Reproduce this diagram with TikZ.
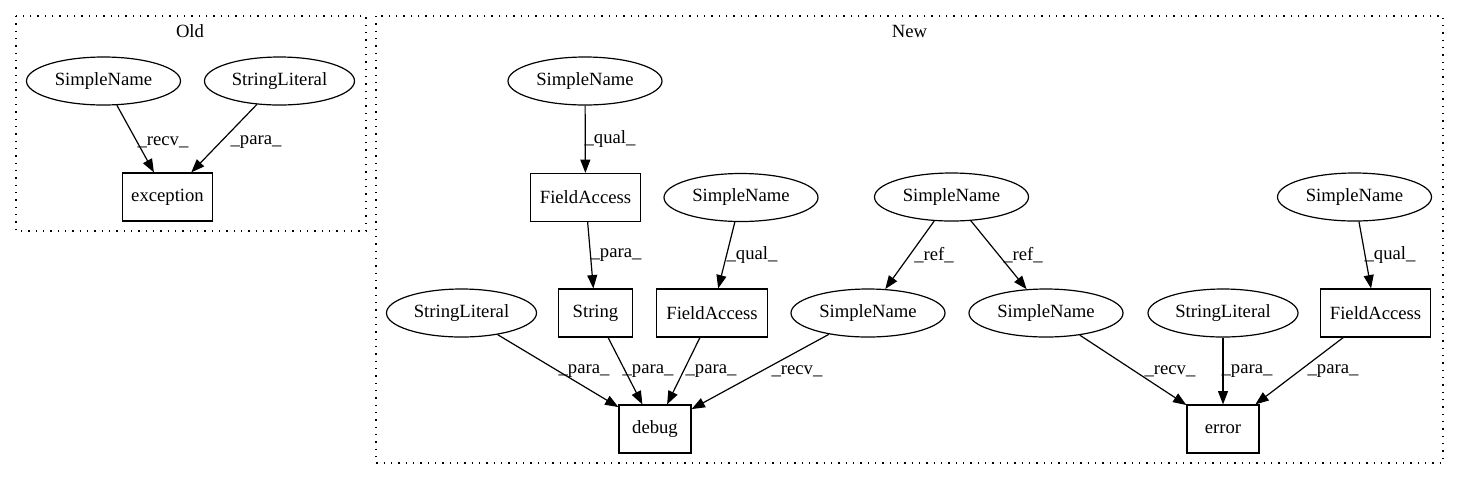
\documentclass[tikz,border=0pt]{standalone}
\usepackage{fontspec}
\setmainfont{Liberation Serif}
\usetikzlibrary{shapes.geometric,arrows.meta}
\begin{document}
\begin{tikzpicture}[x=0.75pt,y=-0.75pt,
  font=\fontsize{14}{16}\selectfont,
  ell/.style={draw,ellipse,line width=0.9pt,inner sep=0pt,minimum height=36pt,minimum width=115.5pt},
  sl/.style={ell,minimum width=112.5pt},
  box/.style={draw,rectangle,line width=0.9pt,inner sep=0pt,minimum height=36pt},
  lbl/.style={inner sep=0pt},
  edge/.style={line width=0.9pt,-{Triangle[length=10pt,width=7.5pt]}},
  cluster/.style={draw,line width=0.9pt,dash pattern=on 1pt off 4.5pt}]
\useasboundingbox (0,0) rectangle (1459,480);
\draw[cluster] (16,16) rectangle (366,231);
\draw[cluster] (376,16) rectangle (1443,463);
\node[lbl] (toldtitle) at (190,31) {Old};
\node[lbl] (tnewtitle) at (909.5,31) {New};
% Old
\node[ell] (osn) at (103.5,81) {SimpleName};
\node[sl] (osl) at (279.5,81) {StringLiteral};
\node[box,minimum width=68pt] (oexc) at (167.5,197) {exception};
\draw[edge] (osn) -- (oexc);
\draw[edge] (osl) -- (oexc);
\node[lbl] (lo1) at (163,142) {\_recv\_};
\node[lbl] (lo2) at (256,142) {\_para\_};
% New
\node[ell] (sn1) at (585,81) {SimpleName};
\node[box,minimum width=83pt] (fa1) at (585.5,197.5) {FieldAccess};
\node[ell] (sn2) at (741,197.5) {SimpleName};
\node[ell] (sn3) at (951.5,197) {SimpleName};
\node[ell] (sn6) at (1354.5,197) {SimpleName};
\node[sl] (sl1) at (461.5,313) {StringLiteral};
\node[box,minimum width=55pt] (str) at (595.5,313) {String};
\node[box,minimum width=83pt] (fa2) at (712,313) {FieldAccess};
\node[ell] (sn4) at (868,313) {SimpleName};
\node[ell] (sn5) at (1046,313) {SimpleName};
\node[sl] (sl2) at (1223,313) {StringLiteral};
\node[box,minimum width=83pt] (fa3) at (1375.5,313) {FieldAccess};
\node[box,minimum width=54pt] (debug) at (655,429) {debug};
\node[box,minimum width=54pt] (err) at (1223,429) {error};
\draw[edge] (sn1) -- (fa1);
\draw[edge] (fa1) -- (str);
\draw[edge] (sn2) -- (fa2);
\draw[edge] (sn3) -- (sn4);
\draw[edge] (sn3) -- (sn5);
\draw[edge] (sn6) -- (fa3);
\draw[edge] (sl1) -- (debug);
\draw[edge] (str) -- (debug);
\draw[edge] (fa2) -- (debug);
\draw[edge] (sn4) -- (debug);
\draw[edge] (sn5) -- (err);
\draw[edge] (sl2) -- (err);
\draw[edge] (fa3) -- (err);
\node[lbl] (l1) at (610,139) {\_qual\_};
\node[lbl] (l2) at (616,255) {\_para\_};
\node[lbl] (l3) at (752,255) {\_qual\_};
\node[lbl] (l4) at (934,255) {\_ref\_};
\node[lbl] (l5) at (1023,255) {\_ref\_};
\node[lbl] (l6) at (1390,255) {\_qual\_};
\node[lbl] (l7) at (584,371) {\_para\_};
\node[lbl] (l8) at (648,371) {\_para\_};
\node[lbl] (l9) at (711,371) {\_para\_};
\node[lbl] (l10) at (797,371) {\_recv\_};
\node[lbl] (l11) at (1170,371) {\_recv\_};
\node[lbl] (l12) at (1247,371) {\_para\_};
\node[lbl] (l13) at (1333,371) {\_para\_};
\end{tikzpicture}
\end{document}
